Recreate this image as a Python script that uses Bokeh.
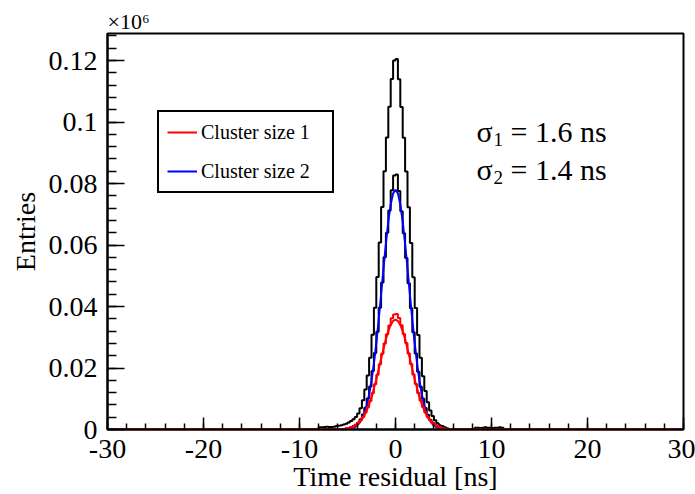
from bokeh.plotting import figure
from bokeh.models import (Range1d, FixedTicker, CustomJSTickFormatter, Legend, LegendItem,
                          Label, Title)
from bokeh.embed import file_html
from bokeh.resources import INLINE

# ---------------- data ----------------
bin_start = -8.0      # ns, left edge of first listed bin
bin_width = 0.25      # ns

# all clusters (black, outer histogram), 78 bins from -8 to 11.5 ns
total_entries = [
    0.0007, 0.0007, 0.0008, 0.0009, 0.0008, 0.0008, 0.0009, 0.0011,
    0.0012, 0.0014, 0.0016, 0.0019, 0.0023, 0.0028, 0.0033, 0.0041,
    0.0052, 0.0069, 0.0095, 0.0130, 0.0176, 0.0233, 0.0308, 0.0396,
    0.0496, 0.0608, 0.0724, 0.0840, 0.0950, 0.1050, 0.1140, 0.1200,
    0.1205, 0.1139, 0.1049, 0.0949, 0.0839, 0.0723, 0.0607, 0.0495,
    0.0395, 0.0307, 0.0233, 0.0173, 0.0125, 0.0089, 0.0062, 0.0044,
    0.0030, 0.0020, 0.0014, 0.0011, 0.0007, 0.0004, 0.0002, 0.0001,
    0.0, 0.0, 0.0, 0.0, 0.0, 0.0, 0.0, 0.0, 0.0,
    0.0006, 0.0006, 0.0005, 0.0006, 0.0007, 0.0006, 0.0006, 0.0005,
    0.0006, 0.0006, 0.0007, 0.0006,
    0.0,
]

# cluster size 2 (black inner histogram)
cluster2_entries = [
    0.0, 0.0, 0.0, 0.0, 0.0, 0.0, 0.0, 0.0,
    0.0001, 0.0001, 0.0002, 0.0003, 0.0005, 0.0007, 0.0010, 0.0015,
    0.0022, 0.0033, 0.0049, 0.0071, 0.0101, 0.0140, 0.0190, 0.0249,
    0.0318, 0.0396, 0.0478, 0.0560, 0.0640, 0.0712, 0.0778, 0.0826,
    0.0829, 0.0776, 0.0710, 0.0638, 0.0558, 0.0476, 0.0394, 0.0316,
    0.0247, 0.0188, 0.0139, 0.0100, 0.0070, 0.0048, 0.0032, 0.0022,
    0.0014, 0.0009, 0.0006, 0.0004, 0.0002, 0.0001, 0.0001,
    0.0, 0.0, 0.0, 0.0, 0.0, 0.0, 0.0, 0.0, 0.0, 0.0, 0.0, 0.0,
    0.0, 0.0, 0.0, 0.0, 0.0, 0.0, 0.0, 0.0, 0.0, 0.0, 0.0,
]

# cluster size 1 (red histogram)
cluster1_entries = [
    0.0, 0.0, 0.0, 0.0, 0.0, 0.0, 0.0, 0.0,
    0.0001, 0.0001, 0.0002, 0.0003, 0.0005, 0.0008, 0.0011, 0.0016,
    0.0022, 0.0030, 0.0041, 0.0055, 0.0072, 0.0093, 0.0118, 0.0147,
    0.0178, 0.0212, 0.0246, 0.0280, 0.0310, 0.0338, 0.0362, 0.0374,
    0.0376, 0.0363, 0.0339, 0.0311, 0.0281, 0.0247, 0.0213, 0.0179,
    0.0148, 0.0119, 0.0094, 0.0073, 0.0055, 0.0041, 0.0030, 0.0022,
    0.0016, 0.0011, 0.0008, 0.0005, 0.0003, 0.0002, 0.0001, 0.0001,
    0.0, 0.0, 0.0, 0.0, 0.0, 0.0, 0.0, 0.0, 0.0, 0.0, 0.0,
    0.0, 0.0, 0.0, 0.0, 0.0, 0.0, 0.0, 0.0, 0.0, 0.0, 0.0,
]

# fitted curves, sampled every 0.25 ns from -6 to 6 ns
fit_x = [-6.0, -5.75, -5.5, -5.25, -5.0, -4.75, -4.5, -4.25, -4.0, -3.75,
         -3.5, -3.25, -3.0, -2.75, -2.5, -2.25, -2.0, -1.75, -1.5, -1.25,
         -1.0, -0.75, -0.5, -0.25, 0.0, 0.25, 0.5, 0.75, 1.0, 1.25,
         1.5, 1.75, 2.0, 2.25, 2.5, 2.75, 3.0, 3.25, 3.5, 3.75,
         4.0, 4.25, 4.5, 4.75, 5.0, 5.25, 5.5, 5.75, 6.0]
fit_cluster2 = [0.0, 0.00001, 0.00003, 0.00007, 0.00013, 0.00025, 0.00044, 0.00078,
                0.0013, 0.0022, 0.0034, 0.0053, 0.0079, 0.0113, 0.0158, 0.0214,
                0.0281, 0.0357, 0.0439, 0.0524, 0.0604, 0.0676, 0.0732, 0.0768,
                0.0780,
                0.0768, 0.0732, 0.0676, 0.0604, 0.0524, 0.0439, 0.0357, 0.0281,
                0.0214, 0.0158, 0.0113, 0.0079, 0.0053, 0.0034, 0.0022, 0.0013,
                0.00078, 0.00044, 0.00025, 0.00013, 0.00007, 0.00003, 0.00001, 0.0]
fit_cluster1 = [0.00003, 0.00006, 0.0001, 0.00016, 0.00027, 0.00044, 0.00068, 0.00105,
                0.0016, 0.0023, 0.0033, 0.0045, 0.0062, 0.0082, 0.0105, 0.0133,
                0.0163, 0.0196, 0.0230, 0.0263, 0.0294, 0.0320, 0.0340, 0.0353,
                0.0357,
                0.0353, 0.0340, 0.0320, 0.0294, 0.0263, 0.0230, 0.0196, 0.0163,
                0.0133, 0.0105, 0.0082, 0.0062, 0.0045, 0.0033, 0.0023, 0.0016,
                0.00105, 0.00068, 0.00044, 0.00027, 0.00016, 0.0001, 0.00006, 0.00003]

x_ticks = [-30, -20, -10, 0, 10, 20, 30]
x_tick_labels = ["-30", "-20", "-10", "0", "10", "20", "30"]
y_ticks = [0, 0.02, 0.04, 0.06, 0.08, 0.1, 0.12]
y_tick_labels = ["0", "0.02", "0.04", "0.06", "0.08", "0.1", "0.12"]
legend_labels = ["Cluster size 1", "Cluster size 2"]
sigma_values = ["1.6", "1.4"]
y_multiplier = "×10⁶"

FONT = "Liberation Serif"


def step_xy(vals):
    n = len(vals)
    edges = [bin_start + bin_width * i for i in range(n + 1)]
    xs = [-30.0] + edges + [30.0]
    ys = [0.0] + list(vals) + [0.0, 0.0]
    return xs, ys


p = figure(width=695, height=494, x_range=Range1d(-30, 30), y_range=Range1d(0, 0.1288),
           output_backend="svg", toolbar_location=None,
           min_border_left=107, min_border_right=12, min_border_top=33, min_border_bottom=65)
p.grid.visible = False
p.background_fill_color = "white"
p.border_fill_color = "white"
p.outline_line_color = "black"
p.outline_line_width = 2

# multiplier above the frame (as a title so it is not clipped)
mult = Title(text=y_multiplier, align="left", text_font=FONT, text_font_size="22px",
             text_font_style="normal", text_color="black", standoff=0, offset=0)
p.add_layout(mult, "above")

# histograms and fits
xs, ys = step_xy(total_entries)
p.step(xs, ys, mode="after", line_color="black", line_width=2)
xs, ys = step_xy(cluster2_entries)
p.step(xs, ys, mode="after", line_color="black", line_width=2)
r_fit2 = p.line(fit_x, fit_cluster2, line_color="blue", line_width=2)
xs, ys = step_xy(cluster1_entries)
p.step(xs, ys, mode="after", line_color="red", line_width=2)
r_fit1 = p.line([-30.0] + fit_x + [30.0], [0.0] + fit_cluster1 + [0.0],
                line_color="red", line_width=2)

# axes
p.xaxis.ticker = FixedTicker(ticks=x_ticks, minor_ticks=[-30 + 2 * i for i in range(31)])
p.yaxis.ticker = FixedTicker(ticks=y_ticks, minor_ticks=[0.004 * i for i in range(33)])
p.xaxis.formatter = CustomJSTickFormatter(
    args=dict(tv=x_ticks, tl=x_tick_labels),
    code="const i = tv.findIndex(t => Math.abs(t - tick) < 1e-9); return i >= 0 ? tl[i] : '';")
p.yaxis.formatter = CustomJSTickFormatter(
    args=dict(tv=y_ticks, tl=y_tick_labels),
    code="const i = tv.findIndex(t => Math.abs(t - tick) < 1e-9); return i >= 0 ? tl[i] : '';")

p.xaxis.axis_label = "Time residual [ns]"
p.yaxis.axis_label = "Entries"
for ax in (p.xaxis[0], p.yaxis[0]):
    ax.axis_label_text_font = FONT
    ax.axis_label_text_font_style = "normal"
    ax.axis_label_text_font_size = "28px"
    ax.axis_label_text_color = "black"
    ax.major_label_text_font = FONT
    ax.major_label_text_font_size = "28px"
    ax.major_label_text_color = "black"
    ax.axis_line_color = "black"
    ax.axis_line_width = 2
    ax.major_tick_line_color = "black"
    ax.minor_tick_line_color = "black"
    ax.major_tick_line_width = 1.5
    ax.minor_tick_line_width = 1.5
    ax.major_tick_out = 0
    ax.minor_tick_out = 0

p.xaxis.major_tick_in = 12
p.xaxis.minor_tick_in = 6
p.yaxis.major_tick_in = 17
p.yaxis.minor_tick_in = 9
p.xaxis.major_label_standoff = 10
p.xaxis.axis_label_standoff = 0
p.yaxis.major_label_standoff = 10
p.yaxis.axis_label_standoff = 5

# legend
legend = Legend(items=[LegendItem(label=legend_labels[0], renderers=[r_fit1]),
                       LegendItem(label=legend_labels[1], renderers=[r_fit2])],
                location=(50, 236))
legend.border_line_color = "black"
legend.border_line_alpha = 1
legend.border_line_width = 2
legend.background_fill_color = "white"
legend.background_fill_alpha = 1
legend.label_text_font = FONT
legend.label_text_font_size = "20px"
legend.label_text_color = "black"
legend.glyph_width = 30
legend.glyph_height = 20
legend.label_standoff = 4
legend.padding = 8
legend.spacing = 15
legend.label_height = 24
legend.label_width = 123
legend.margin = 0
p.add_layout(legend)

# sigma annotation
for k, (sv, base) in enumerate(zip(sigma_values, [298, 260])):
    p.add_layout(Label(x=369, y=base, x_units="screen", y_units="screen", text="σ",
                       text_font=FONT, text_font_size="30px", text_baseline="alphabetic",
                       text_color="black"))
    p.add_layout(Label(x=386, y=base - 8, x_units="screen", y_units="screen", text=str(k + 1),
                       text_font=FONT, text_font_size="19px", text_baseline="alphabetic",
                       text_color="black"))
    p.add_layout(Label(x=403, y=base, x_units="screen", y_units="screen", text="= " + sv + " ns",
                       text_font=FONT, text_font_size="30px", text_baseline="alphabetic",
                       text_color="black"))

open("out.html", "w").write(file_html(p, INLINE))
